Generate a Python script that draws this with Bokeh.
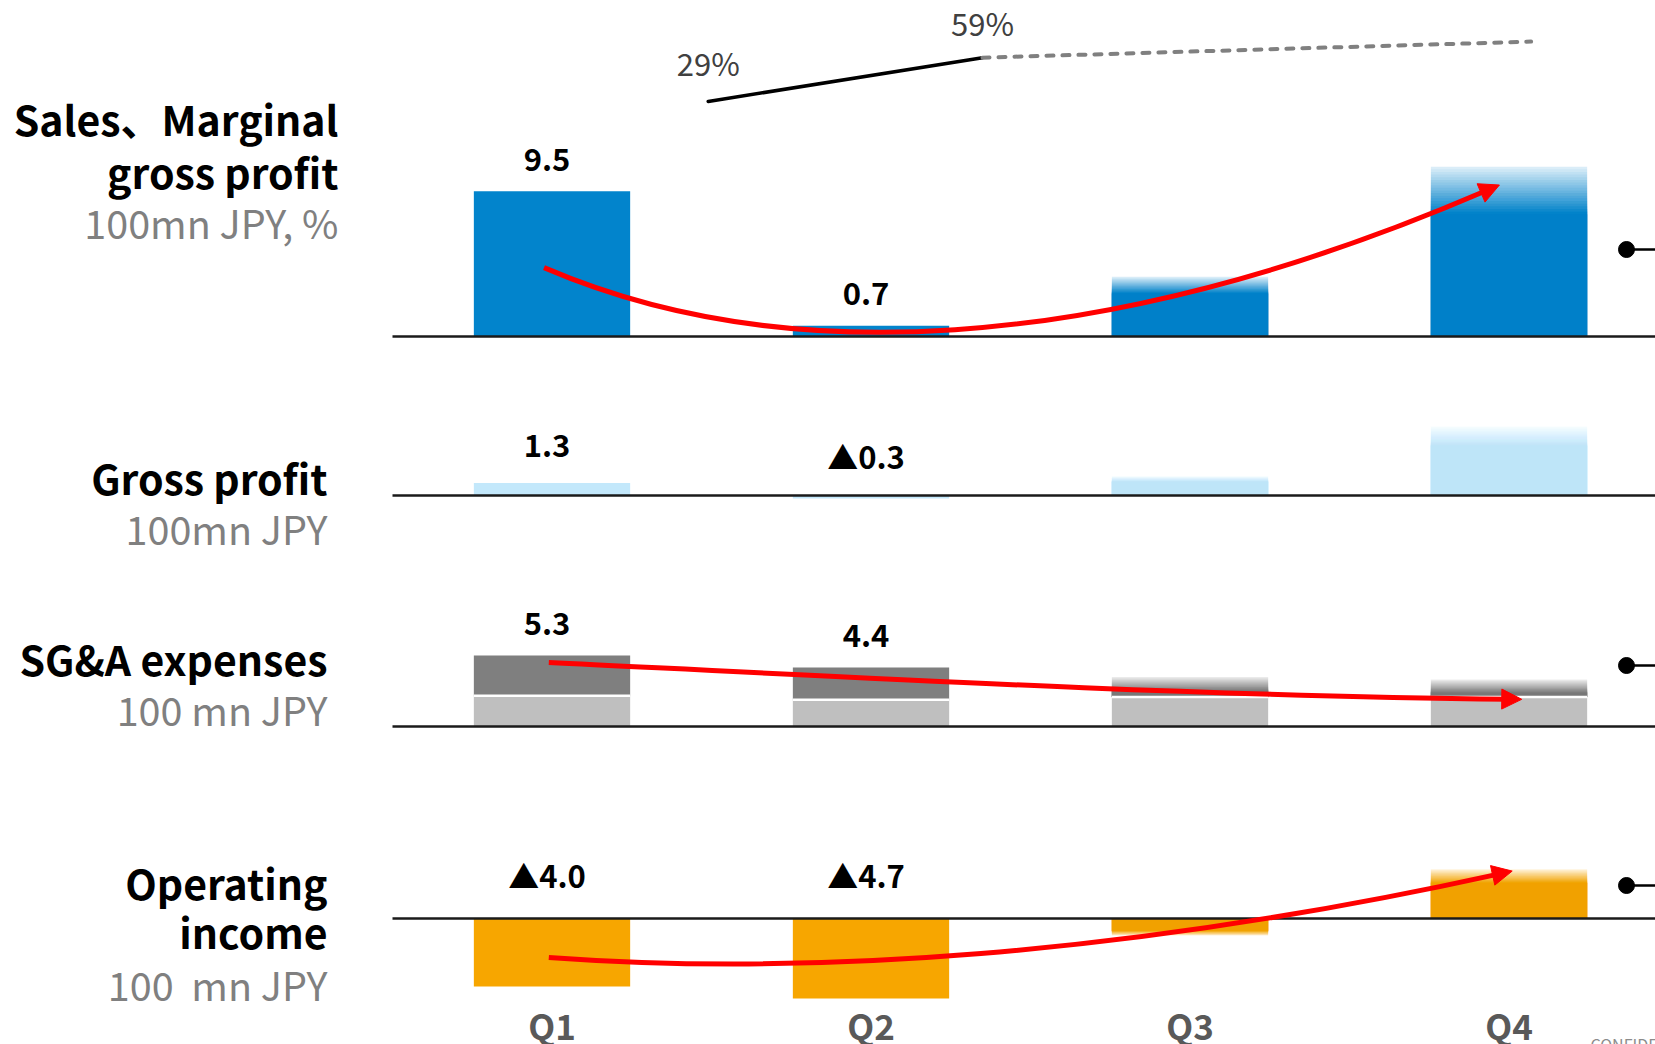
import numpy as np
from bokeh.plotting import figure
from bokeh.models import Range1d, ColumnDataSource, Arrow, NormalHead
from bokeh.core.properties import value
from bokeh.embed import file_html
from bokeh.resources import INLINE

# ---------------- data (100 mn JPY unless noted) ----------------
quarters = ["Q1", "Q2", "Q3", "Q4"]
n_actual = 2                      # Q1-Q2 results, Q3-Q4 plan
sales = [9.5, 0.7, 3.9, 11.1]
gross_profit = [1.3, -0.3, 2.0, 7.2]
sga_fixed = [2.3, 2.0, 2.2, 2.2]
sga_variable = [3.0, 2.4, 1.5, 1.3]
operating_income = [-4.0, -4.7, -1.0, 2.9]
margin_quarters = ["Q1", "Q2", "Q4"]
margin_pct = [29, 59, 70]

# ---------------- layout ----------------
W, H = 1655, 1044
FONT = value("Noto Sans CJK JP")
Q_X0, Q_STEP = 551.5, 319.0       # canvas x of Q1 centre, spacing of quarters
BAR_W = 0.49
PANELS = {                        # canvas y of zero line, pixels per unit
    "sales": (336.0, 15.3),
    "gross": (495.0, 9.6),
    "sga": (726.0, 13.4),
    "op": (918.0, 17.0),
}
LABEL_OFFSET = {"sales": (-32, -40), "gross": (-38, -40), "sga": (-32, -40), "op": (-32, -44)}
M_X0, M_STEP = 707.7, 274.3       # small margin-ratio chart above the sales bars
M_BASE, M_SCALE = 143.3, 1.46
FADE = 0.28                       # share of a plan bar that fades out

BLUE, LIGHT_BLUE = "#0284CC", "#C3E8FB"
DARK_GREY, LIGHT_GREY = "#7F7F7F", "#BFBFBF"
ORANGE, RED = "#F7A600", "#FF0000"

p = figure(width=W, height=H, x_range=Range1d(0, W), y_range=Range1d(H, 0),
           x_axis_type=None, y_axis_type=None, toolbar_location=None,
           output_backend="svg", min_border=0, outline_line_color=None,
           background_fill_color="white", border_fill_color="white")

x_end = (W - Q_X0) / Q_STEP
p.extra_x_ranges = {
    "q": Range1d(-Q_X0 / Q_STEP, x_end),
    "m": Range1d(-M_X0 / M_STEP, (W - M_X0) / M_STEP),
}
p.extra_y_ranges = {name: Range1d((b - H) / s, b / s) for name, (b, s) in PANELS.items()}
p.extra_y_ranges["m"] = Range1d((M_BASE - H) / M_SCALE, M_BASE / M_SCALE)

# ---------------- bars ----------------
quads = {name: dict(left=[], right=[], bottom=[], top=[], color=[], alpha=[]) for name in PANELS}


def add_quad(panel, i, a, b, color, alpha):
    q = quads[panel]
    q["left"].append(i - BAR_W / 2)
    q["right"].append(i + BAR_W / 2)
    q["bottom"].append(min(a, b))
    q["top"].append(max(a, b))
    q["color"].append(color)
    q["alpha"].append(alpha)


def add_bar(panel, i, lo, hi, color, fade_len=0.0):
    """Bar from lo (zero side) to hi; plan bars fade out towards hi.

    The fade is built from nested translucent layers that all start at lo,
    so no seams appear between the steps."""
    if fade_len <= 0 or hi == lo:
        add_quad(panel, i, lo, hi, color, 1.0)
        return
    sign = 1.0 if hi > lo else -1.0
    f = min(abs(fade_len), abs(hi - lo))
    solid_end = hi - sign * f
    if solid_end != lo:
        add_quad(panel, i, lo, solid_end, color, 1.0)
    steps = 18
    edges = np.linspace(solid_end, hi, steps + 1)
    target = [1.0 - 0.88 * (j + 0.5) / steps for j in range(steps)]
    rest = 1.0
    layers = []
    for j in range(steps - 1, -1, -1):
        a = 1.0 - (1.0 - target[j]) / rest
        rest *= (1.0 - a)
        layers.append((edges[j + 1], a))
    for top_edge, a in reversed(layers):
        add_quad(panel, i, lo, top_edge, color, a)


for i, q in enumerate(quarters):
    plan = i >= n_actual
    add_bar("sales", i, 0, sales[i], BLUE, FADE * abs(sales[i]) if plan else 0)
    add_bar("gross", i, 0, gross_profit[i], LIGHT_BLUE, FADE * abs(gross_profit[i]) if plan else 0)
    total = sga_fixed[i] + sga_variable[i]
    add_bar("sga", i, 0, sga_fixed[i], LIGHT_GREY)
    add_bar("sga", i, sga_fixed[i], total, DARK_GREY, FADE * total if plan else 0)
    add_bar("op", i, 0, operating_income[i], ORANGE,
            FADE * abs(operating_income[i]) if plan else 0)

for name, q in quads.items():
    src = ColumnDataSource(q)
    p.quad(left="left", right="right", bottom="bottom", top="top", source=src,
           fill_color="color", fill_alpha="alpha", line_color=None,
           x_range_name="q", y_range_name=name)

# white gap between the two SG&A components
idx = list(range(len(quarters)))
p.segment(x0=[i - BAR_W / 2 for i in idx], x1=[i + BAR_W / 2 for i in idx],
          y0=sga_fixed, y1=sga_fixed, line_color="white", line_width=2.5,
          x_range_name="q", y_range_name="sga")

# zero lines
for name in PANELS:
    p.segment(x0=[-0.5], x1=[x_end], y0=[0], y1=[0], line_color="#1A1A1A",
              line_width=2.4, x_range_name="q", y_range_name=name)

# ---------------- value labels (results only) ----------------
def fmt(v):
    return ("▲" if v < 0 else "") + f"{abs(v):.1f}"


def value_labels(panel, tops):
    pos_off, neg_off = LABEL_OFFSET[panel]
    xs, ys, txt, offs = [], [], [], []
    for i in range(n_actual):
        v = tops[i]
        xs.append(i)
        ys.append(max(v, 0))
        txt.append(fmt(v))
        offs.append(pos_off if v >= 0 else neg_off)
    src = ColumnDataSource(dict(x=xs, y=ys, t=txt, o=offs))
    p.text(x="x", y="y", text="t", y_offset="o", x_offset=-5, source=src,
           text_font=FONT, text_font_style="bold", text_font_size="31px",
           text_color="black", text_align="center", text_baseline="middle",
           x_range_name="q", y_range_name=panel)


value_labels("sales", sales)
value_labels("gross", gross_profit)
value_labels("sga", [a + b for a, b in zip(sga_fixed, sga_variable)])
value_labels("op", operating_income)

# ---------------- marginal gross profit ratio ----------------
mx = [quarters.index(q) for q in margin_quarters]
n_m_actual = sum(1 for q in margin_quarters if quarters.index(q) < n_actual)
p.line(mx[:n_m_actual], margin_pct[:n_m_actual], line_color="black", line_width=3.5,
       line_cap="round", x_range_name="m", y_range_name="m")
p.line(mx[n_m_actual - 1:], margin_pct[n_m_actual - 1:], line_color="#808080",
       line_width=4, line_dash="7 9", line_cap="round",
       x_range_name="m", y_range_name="m")
p.text(x=mx[:n_m_actual], y=margin_pct[:n_m_actual],
       text=[f"{v}%" for v in margin_pct[:n_m_actual]], y_offset=[-39, -35],
       text_font=FONT, text_font_size="31px", text_color="#404040",
       text_align="center", text_baseline="middle",
       x_range_name="m", y_range_name="m")

# ---------------- trend arrows ----------------
trends = {  # cubic curves in quarter / value units: start, control 1, control 2, arrow tip
    "sales": [(-0.025, 4.5), (0.7, -2.0), (1.7, -1.5), (2.97, 9.9)],
    "sga": [(-0.01, 4.78), (1.0, 3.6), (2.0, 2.3), (3.04, 2.03)],
    "op": [(-0.01, -2.29), (0.8, -3.4), (1.8, -2.2), (3.01, 2.79)],
}
for name, (s, c0, c1, tip) in trends.items():
    _, scale = PANELS[name]
    tx, ty = (tip[0] - c1[0]) * Q_STEP, (tip[1] - c1[1]) * scale
    n = np.hypot(tx, ty)
    e = (tip[0] - 14 * tx / n / Q_STEP, tip[1] - 14 * ty / n / scale)
    p.bezier(x0=[s[0]], y0=[s[1]], cx0=[c0[0]], cy0=[c0[1]], cx1=[c1[0]], cy1=[c1[1]],
             x1=[e[0]], y1=[e[1]], line_color=RED, line_width=5,
             x_range_name="q", y_range_name=name)
    p.add_layout(Arrow(end=NormalHead(size=20, fill_color=RED, line_color=RED),
                       x_start=e[0], y_start=e[1], x_end=tip[0], y_end=tip[1],
                       line_color=RED, line_width=5,
                       x_range_name="q", y_range_name=name))

# ---------------- callout stubs on the right edge ----------------
call_y = [249, 665, 885]
p.segment(x0=[1626] * 3, x1=[W] * 3, y0=call_y, y1=call_y, line_color="black", line_width=2.5)
p.scatter(x=[1626] * 3, y=call_y, size=16, color="black")

# ---------------- row titles ----------------
GREY_TXT = "#808080"
titles = [
    ("Sales、Marginal", 338, 117, "bold", "black"),
    ("gross profit", 338, 170, "bold", "black"),
    ("100mn JPY, %", 338, 221, "normal", GREY_TXT),
    ("Gross profit", 327, 476, "bold", "black"),
    ("100mn JPY", 327, 527, "normal", GREY_TXT),
    ("SG&A expenses", 327, 657, "bold", "black"),
    ("100 mn JPY", 327, 708, "normal", GREY_TXT),
    ("Operating", 327, 881, "bold", "black"),
    ("income", 327, 930, "bold", "black"),
    ("100\u00a0\u00a0mn JPY", 327, 983, "normal", GREY_TXT),
]
for t, x, y, style, color in titles:
    p.text(x=[x], y=[y], text=[t], text_font=FONT, text_font_style=style,
           text_font_size="41px" if style == "bold" else "39.5px",
           text_color=color, text_align="right", text_baseline="middle")

# quarter labels
p.text(x=idx, y=[1024] * 4, text=quarters, text_font=FONT, text_font_style="bold",
       text_font_size="35px", text_color="#595959", text_align="center",
       text_baseline="middle", x_range_name="q")

p.text(x=[1590], y=[1043], text=["CONFIDENTIAL"], text_font=FONT,
       text_font_size="16px", text_color="#8C8C8C", text_baseline="middle")

open("out.html", "w").write(file_html(p, INLINE))
